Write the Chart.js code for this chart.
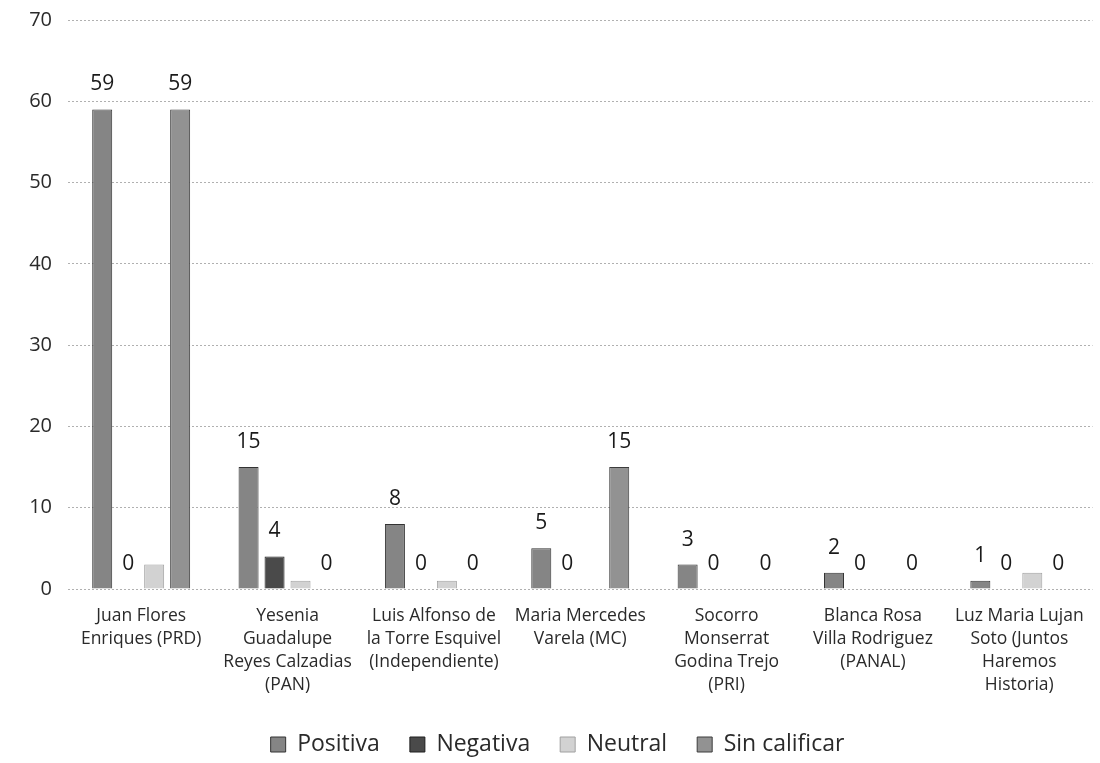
<!DOCTYPE html>
<html lang="es">
<head>
<meta charset="UTF-8">
<title>Calificación por candidato</title>
<script src="https://cdn.jsdelivr.net/npm/chart.js@4/dist/chart.umd.min.js"></script>
<style>
  html, body { margin: 0; padding: 0; background: #fff; }
  #wrap { width: 1100px; height: 763px; }
</style>
</head>
<body>
<div id="wrap"><canvas id="chart" width="1100" height="763"></canvas></div>
<script>
const candidates = [
  ['Juan Flores', 'Enriques (PRD)'],
  ['Yesenia', 'Guadalupe', 'Reyes Calzadias', '(PAN)'],
  ['Luis Alfonso de', 'la Torre Esquivel', '(Independiente)'],
  ['Maria Mercedes', 'Varela (MC)'],
  ['Socorro', 'Monserrat', 'Godina Trejo', '(PRI)'],
  ['Blanca Rosa', 'Villa Rodriguez', '(PANAL)'],
  ['Luz Maria Lujan', 'Soto (Juntos', 'Haremos', 'Historia)']
];
const positiva     = [59, 15, 8, 5, 3, 2, 1];
const negativa     = [0, 4, 0, 0, 0, 0, 0];
const neutral      = [3, 1, 1, 0, 0, 0, 2];
const sinCalificar = [59, 0, 0, 15, 0, 0, 0];
const yTicks = [0, 10, 20, 30, 40, 50, 60, 70];

const FONT = "'Open Sans', 'Liberation Sans', sans-serif";

// value labels above the bars (neutral has none in the original)
const valueLabels = {
  id: 'valueLabels',
  afterDatasetsDraw(chart) {
    const ctx = chart.ctx;
    ctx.save();
    ctx.font = '21px ' + FONT;
    ctx.fillStyle = '#1a1a1a';
    ctx.textAlign = 'center';
    ctx.textBaseline = 'alphabetic';
    chart.data.datasets.forEach((ds, i) => {
      if (!ds.showValues) return;
      chart.getDatasetMeta(i).data.forEach((bar, j) => {
        ctx.fillText(String(ds.data[j]), bar.x, bar.y - 19);
      });
    });
    ctx.restore();
  }
};

new Chart(document.getElementById('chart'), {
  type: 'bar',
  data: {
    labels: candidates,
    datasets: [
      { label: 'Positiva', data: positiva, backgroundColor: '#858585', borderColor: '#333', borderWidth: 1, showValues: true },
      { label: 'Negativa', data: negativa, backgroundColor: '#4a4a4a', borderColor: '#1e1e1e', borderWidth: 1, showValues: true },
      { label: 'Neutral', data: neutral, backgroundColor: '#d2d2d2', borderColor: '#a0a0a0', borderWidth: 1, showValues: false },
      { label: 'Sin calificar', data: sinCalificar, backgroundColor: '#929292', borderColor: '#3c3c3c', borderWidth: 1, showValues: true }
    ]
  },
  options: {
    responsive: false,
    animation: false,
    layout: { padding: { left: 20, right: 5, top: 20, bottom: -3 } },
    datasets: { bar: { categoryPercentage: 0.71, barPercentage: 0.77 } },
    scales: {
      x: {
        grid: { display: false, drawTicks: false },
        border: { display: false },
        afterFit(axis) { axis.height = 114; },
        ticks: { color: '#2a2a2a', padding: 16, font: { family: FONT, size: 17.5, lineHeight: 1.3 }, maxRotation: 0, autoSkip: false }
      },
      y: {
        min: 0, max: 70,
        afterBuildTicks(axis) { axis.ticks = yTicks.map(v => ({ value: v })); },
        afterFit(axis) { axis.width = 48; axis.paddingTop = 0; axis.paddingBottom = 0; },
        grid: { color: '#b0b0b0', lineWidth: 1, drawTicks: false },
        border: { display: false, dash: [2, 2] },
        ticks: { color: '#2a2a2a', padding: 16, font: { family: FONT, size: 20 } }
      }
    },
    plugins: {
      legend: {
        position: 'bottom',
        labels: { color: '#2a2a2a', font: { family: FONT, size: 23 }, boxWidth: 15, boxHeight: 15, padding: 30 }
      },
      tooltip: { enabled: false }
    }
  },
  plugins: [valueLabels]
});
</script>
</body>
</html>
